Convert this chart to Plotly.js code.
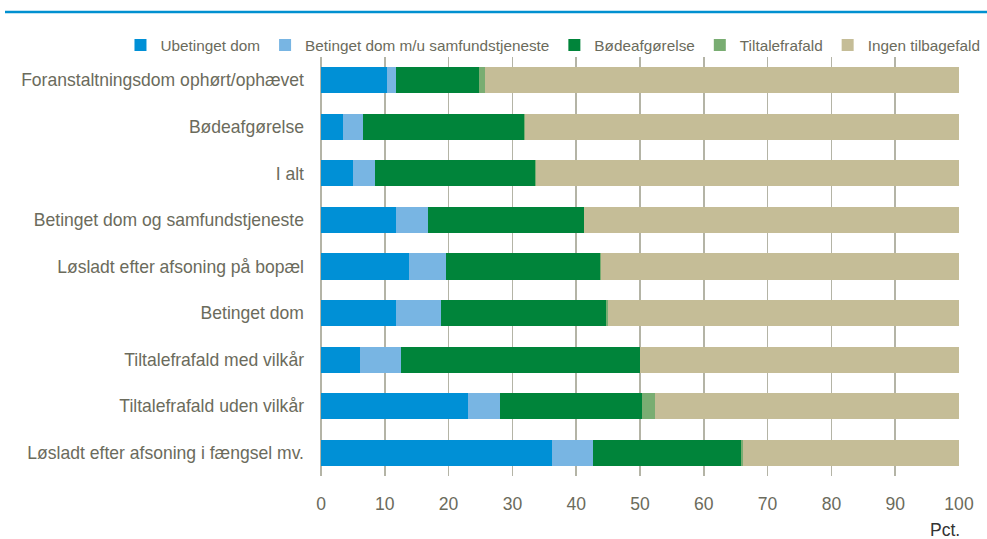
<!DOCTYPE html>
<html>
<head>
<meta charset="utf-8">
<script src="https://cdn.plot.ly/plotly-3.0.1.min.js"></script>
<style>html,body{margin:0;padding:0;background:#fff;}#chart{width:987px;height:539px;}</style>
</head>
<body>
<div id="chart"></div>
<script>
const categories = [
  "Foranstaltningsdom ophørt/ophævet",
  "Bødeafgørelse",
  "I alt",
  "Betinget dom og samfundstjeneste",
  "Løsladt efter afsoning på bopæl",
  "Betinget dom",
  "Tiltalefrafald med vilkår",
  "Tiltalefrafald uden vilkår",
  "Løsladt efter afsoning i fængsel mv."
];
const seriesNames = ["Ubetinget dom", "Betinget dom m/u samfundstjeneste", "Bødeafgørelse", "Tiltalefrafald", "Ingen tilbagefald"];
const ubetinget = [10.3, 3.4, 5.0, 11.8, 13.8, 11.8, 6.1, 23.0, 36.2];
const betinget  = [1.5, 3.2, 3.5, 5.0, 5.8, 7.0, 6.4, 5.0, 6.5];
const boede     = [13.0, 25.2, 25.1, 24.4, 24.2, 25.9, 37.5, 22.3, 23.2];
const tiltale   = [0.9, 0.1, 0.1, 0.1, 0.1, 0.3, 0.0, 2.1, 0.2];
const ingen     = [74.3, 68.1, 66.3, 58.7, 56.1, 55.0, 50.0, 47.6, 33.9];
const colors = ["#0090d6", "#78b5e3", "#00843a", "#79ad72", "#c5bd97"];
const xTicks = [0,10,20,30,40,50,60,70,80,90,100];

const FAMILY = "Liberation Sans";
const FONT = "'Liberation Sans', Arial, sans-serif";

// measure text to choose font sizes matching the reference's narrow type
const ctx = document.createElement("canvas").getContext("2d");
function w(str, size) { ctx.font = size + "px '" + FAMILY + "'"; return ctx.measureText(str).width; }
const labelSize = Math.min(19, 100 * 283 / w(categories[0], 100));
const legendTextSum = seriesNames.reduce((s, n) => s + w(n, 100), 0) / 100;
const legendSize = Math.min(labelSize, 640 / legendTextSum);
const legendW = seriesNames.reduce((s, n) => s + 40 + w(n, legendSize), 0) + 4 * 2 + 10;
const legendLeft = Math.max(4, Math.min(552 - legendW / 2, 978 - legendW));

const values = [ubetinget, betinget, boede, tiltale, ingen];
const traces = values.map((v, i) => ({
  type: "bar",
  orientation: "h",
  name: seriesNames[i],
  y: categories,
  x: v,
  marker: {color: colors[i], line: {width: 0}},
  hoverinfo: "x+name"
}));

const plotL = 321, plotR = 959, plotT = 57, plotB = 476;
const pw = plotR - plotL, ph = plotB - plotT;

const layout = {
  width: 987, height: 539,
  margin: {l: plotL, r: 987 - plotR, t: plotT, b: 539 - plotB, autoexpand: false},
  barmode: "stack",
  bargap: 0.44,
  paper_bgcolor: "#ffffff",
  plot_bgcolor: "#ffffff",
  font: {family: FONT, size: labelSize, color: "#6b6b5c"},
  showlegend: true,
  legend: {
    orientation: "h",
    xref: "paper", yref: "paper",
    x: (legendLeft - plotL) / pw, xanchor: "left",
    y: (plotB - 45) / ph, yanchor: "middle",
    font: {family: FONT, size: legendSize, color: "#6b6b5c"},
    itemgap: 2,
    traceorder: "normal",
    bgcolor: "rgba(0,0,0,0)"
  },
  xaxis: {
    range: [0, 100],
    tickvals: xTicks,
    ticktext: xTicks.map(String),
    showgrid: true,
    gridcolor: "#b4b4a6",
    gridwidth: 1.5,
    zeroline: true,
    zerolinecolor: "#b4b4a6",
    zerolinewidth: 1.5,
    showline: false,
    ticks: "",
    ticklabelstandoff: 15,
    tickfont: {family: FONT, size: labelSize, color: "#6b6b5c"},
    fixedrange: true
  },
  yaxis: {
    type: "category",
    autorange: "reversed",
    showgrid: false,
    showline: false,
    zeroline: false,
    ticks: "",
    ticklabelstandoff: 16,
    tickfont: {family: FONT, size: labelSize, color: "#6b6b5c"},
    fixedrange: true
  },
  shapes: [
    {type: "line", xref: "paper", yref: "paper",
     x0: (5 - plotL) / pw, x1: (990 - plotL) / pw, y0: (plotB - 12) / ph, y1: (plotB - 12) / ph,
     line: {color: "#0090d0", width: 2.5}}
  ],
  annotations: [
    {text: "Pct.", xref: "paper", yref: "paper", x: (962 - plotL) / pw, y: (plotB - 530) / ph,
     xanchor: "right", yanchor: "middle",
     showarrow: false, font: {family: FONT, size: labelSize, color: "#333333"}}
  ]
};

Plotly.newPlot("chart", traces, layout, {displayModeBar: false, staticPlot: true});
</script>
</body>
</html>
